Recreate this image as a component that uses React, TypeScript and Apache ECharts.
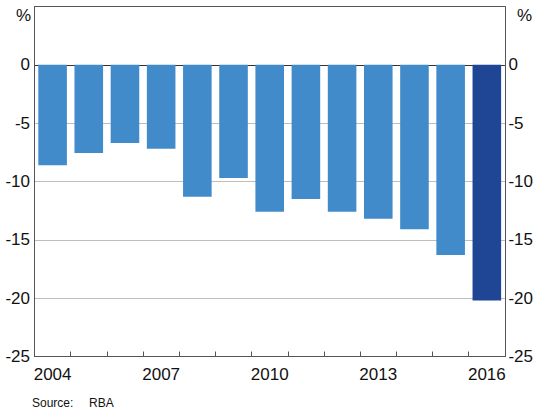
import React, { useEffect, useRef } from "react";
import * as echarts from "echarts";

const years = ["2004", "2005", "2006", "2007", "2008", "2009", "2010", "2011", "2012", "2013", "2014", "2015", "2016"];
const values = [-8.6, -7.55, -6.7, -7.2, -11.3, -9.7, -12.6, -11.5, -12.6, -13.2, -14.1, -16.3, -20.2];
const highlightYear = "2016";
const yTicks = [-25, -20, -15, -10, -5, 0, 5];

const FONT = "Liberation Sans, Arial, sans-serif";

export default function App() {
  const ref = useRef<HTMLDivElement>(null);
  useEffect(() => {
    if (!ref.current) return;
    const chart = echarts.init(ref.current, undefined, { renderer: "svg" });
    const splitColors = yTicks.map((v) => (v === 0 ? "#333333" : v === 5 || v === -25 ? "#555555" : "#bdbdbd"));
    const yAxisBase = {
      type: "value" as const,
      min: yTicks[0],
      max: yTicks[yTicks.length - 1],
      interval: 5,
      axisTick: { show: false },
      axisLine: { show: true, lineStyle: { color: "#555555", width: 1 } },
    };
    chart.setOption({
      animation: false,
      textStyle: { fontFamily: FONT },
      grid: { left: 34.5, right: 26.5, top: 6.5, bottom: 56.5, containLabel: false },
      xAxis: {
        type: "category",
        data: years,
        axisLine: { show: true, onZero: false, lineStyle: { color: "#555555", width: 1 } },
        axisTick: { show: true, inside: true, length: 5, interval: 0, lineStyle: { color: "#555555" } },
        axisLabel: { interval: 2, fontSize: 17, color: "#111", margin: 9, fontFamily: FONT },
        splitLine: { show: false },
      },
      yAxis: [
        {
          ...yAxisBase,
          position: "left",
          axisLabel: {
            fontSize: 17,
            color: "#111",
            margin: 4.5,
            fontFamily: FONT,
            formatter: (v: number) => (v === 5 ? "" : String(v)),
          },
          splitLine: { show: true, lineStyle: { color: splitColors, width: 1 } },
        },
        {
          ...yAxisBase,
          position: "right",
          axisLabel: {
            fontSize: 17,
            color: "#111",
            margin: 3.5,
            fontFamily: FONT,
            formatter: (v: number) => (v === 5 ? "" : String(v)),
          },
          splitLine: { show: false },
        },
      ],
      series: [
        {
          type: "bar",
          xAxisIndex: 0,
          yAxisIndex: 0,
          barCategoryGap: "21%",
          data: values.map((v, i) => ({
            value: v,
            itemStyle: { color: years[i] === highlightYear ? "#1f4694" : "#418bca" },
          })),
        },
      ],
      graphic: [
        { type: "text", left: 16, top: 7, style: { text: "%", fontSize: 17, fill: "#111", fontFamily: FONT } },
        { type: "text", left: 517, top: 7, style: { text: "%", fontSize: 17, fill: "#111", fontFamily: FONT } },
        { type: "text", left: 32, top: 397, style: { text: "Source:", fontSize: 12, fill: "#111", fontFamily: FONT } },
        { type: "text", left: 89, top: 397, style: { text: "RBA", fontSize: 12, fill: "#111", fontFamily: FONT } },
      ],
    });
    return () => chart.dispose();
  }, []);
  return <div ref={ref} style={{ width: 536, height: 413, position: "absolute", left: 0, top: 0 }} />;
}
